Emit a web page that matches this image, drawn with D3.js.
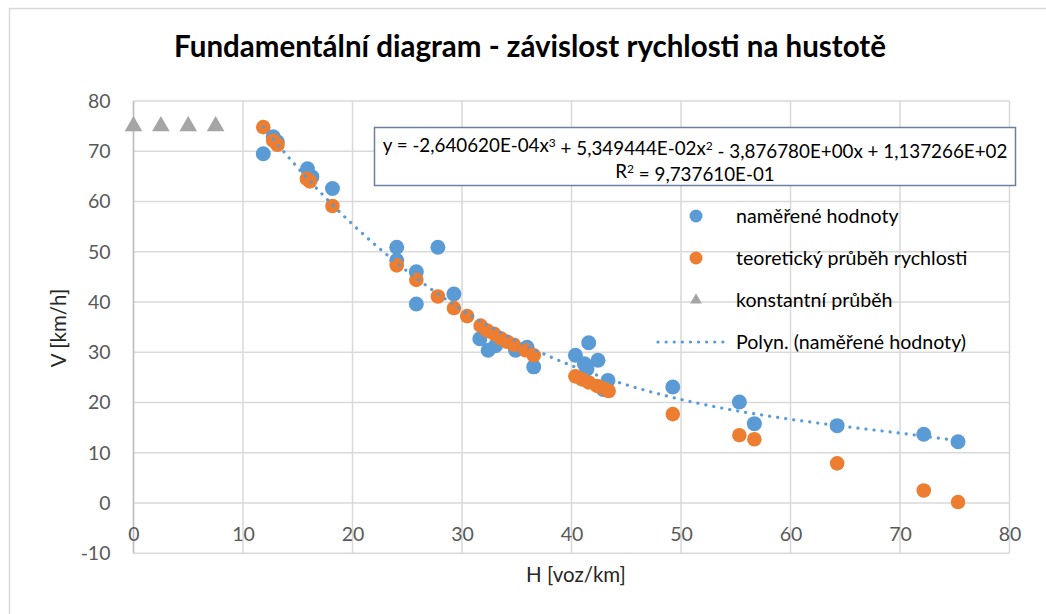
<!DOCTYPE html>
<html>
<head>
<meta charset="utf-8">
<script src="https://cdn.jsdelivr.net/npm/d3@7"></script>
<style>
  body { margin: 0; background: #fff; }
  svg { display: block; font-family: Lato, "Open Sans", sans-serif; }
</style>
</head>
<body>
<svg id="chart" width="1046" height="614"></svg>
<script>
'use strict';

var titleText = "Fundamentální diagram - závislost rychlosti na hustotě";
var xTitle = "H [voz/km]";
var yTitle = "V [km/h]";

var xTicks = [0, 10, 20, 30, 40, 50, 60, 70, 80];
var yTicks = [-10, 0, 10, 20, 30, 40, 50, 60, 70, 80];

// naměřené hodnoty
var measuredH = [11.85, 12.76, 13.13, 15.89, 16.29, 18.17, 24.04, 24.04, 27.80, 25.83,
  25.83, 29.26, 31.63, 32.39, 33.06, 34.89, 35.94, 36.55, 40.36, 41.57,
  41.18, 42.42, 41.41, 43.33, 42.9, 49.25, 55.33, 56.70, 64.26, 72.17, 75.30];
var measuredV = [69.5, 72.9, 71.9, 66.5, 64.9, 62.6, 50.9, 48.3, 50.9, 46.0,
  39.6, 41.6, 32.7, 30.4, 31.3, 30.4, 31.0, 27.1, 29.4, 31.9,
  27.7, 28.4, 26.7, 24.4, 22.6, 23.1, 20.1, 15.8, 15.4, 13.7, 12.2];

// teoretický průběh rychlosti
var theoryH = [11.85, 12.76, 13.15, 15.83, 16.11, 18.17, 24.04, 25.83, 27.80, 29.26,
  30.47, 31.70, 32.30, 32.91, 33.52, 34.12, 34.73, 35.80, 36.55, 40.36,
  40.96, 41.57, 42.33, 42.94, 43.39, 49.25, 55.33, 56.70, 64.26, 72.17, 75.30];
var theoryV = [74.8, 72.1, 71.3, 64.5, 64.0, 59.1, 47.3, 44.4, 41.1, 38.8,
  37.2, 35.3, 34.3, 33.7, 32.8, 32.1, 31.5, 30.4, 29.4, 25.2,
  24.6, 24.0, 23.3, 22.8, 22.3, 17.7, 13.5, 12.7, 7.9, 2.5, 0.2];

// konstantní průběh
var constH = [0, 2.5, 5, 7.5];
var constV = [75, 75, 75, 75];

// trend coefficients as printed in the chart (x^3, x^2, x, 1)
var trendCoefs = [-2.640620E-04, 5.349444E-02, -3.876780E+00, 1.137266E+02];
var eqLine1 = ["y = -2,640620E-04x", "3", " + 5,349444E-02x", "2", " - 3,876780E+00x + 1,137266E+02"];
var eqLine2 = ["R", "2", " = 9,737610E-01"];

var seriesNames = ["naměřené hodnoty", "teoretický průběh rychlosti", "konstantní průběh", "Polyn. (naměřené hodnoty)"];

var blue = "#5B9BD5", orange = "#ED7D31", gray = "#A5A5A5";
var gridColor = "#D9D9D9", tickColor = "#595959";

var svg = d3.select("#chart");

// chart border
svg.append("rect")
  .attr("x", 9.5).attr("y", 8.5)
  .attr("width", 1100).attr("height", 700)
  .attr("fill", "#fff").attr("stroke", gridColor).attr("stroke-width", 1.5);

var x = d3.scaleLinear().domain([0, 80]).range([133.5, 1009.5]);
var y = d3.scaleLinear().domain([-10, 80]).range([553.3, 101]);

// title
svg.append("text")
  .attr("x", 530).attr("y", 57)
  .attr("text-anchor", "middle")
  .style("font-size", "29.5px").style("font-weight", "bold")
  .attr("fill", "#000")
  .text(titleText);

// gridlines
var grid = svg.append("g").attr("stroke", gridColor).attr("stroke-width", 1.5);
grid.selectAll(".gx").data(xTicks).enter().append("line")
  .attr("x1", function(d) { return x(d); }).attr("x2", function(d) { return x(d); })
  .attr("y1", y(80)).attr("y2", y(-10));
grid.selectAll(".gy").data(yTicks).enter().append("line")
  .attr("x1", x(0)).attr("x2", x(80))
  .attr("y1", function(d) { return y(d); }).attr("y2", function(d) { return y(d); });

// axis line
svg.append("line")
  .attr("x1", x(0)).attr("x2", x(0)).attr("y1", y(80)).attr("y2", y(-10))
  .attr("stroke", "#BFBFBF").attr("stroke-width", 1.5);

// axes labels (plain hyphen for negatives, as in the original)
var fmt = function(d) { return String(d); };
var yAxis = svg.append("g")
  .attr("transform", "translate(" + x(0) + ",0)")
  .call(d3.axisLeft(y).tickValues(yTicks).tickFormat(fmt).tickSize(0).tickPadding(23));
var xAxis = svg.append("g")
  .attr("transform", "translate(0," + y(0) + ")")
  .call(d3.axisBottom(x).tickValues(xTicks).tickFormat(fmt).tickSize(0).tickPadding(24));
[xAxis, yAxis].forEach(function(a) {
  a.select(".domain").remove();
  a.selectAll("text")
    .attr("fill", tickColor)
    .style("font-size", "19.5px")
    .style("font-family", "Lato, 'Open Sans', sans-serif");
});

svg.append("text")
  .attr("transform", "translate(66,328) rotate(-90)")
  .attr("text-anchor", "middle")
  .style("font-size", "20.5px").attr("fill", "#262626")
  .text(yTitle);
svg.append("text")
  .attr("x", 576).attr("y", 582)
  .attr("text-anchor", "middle")
  .style("font-size", "20.5px").attr("fill", "#262626")
  .text(xTitle);

// series
var measured = measuredH.map(function(h, i) { return { h: h, v: measuredV[i] }; });
var theory = theoryH.map(function(h, i) { return { h: h, v: theoryV[i] }; });
var constant = constH.map(function(h, i) { return { h: h, v: constV[i] }; });

svg.append("g").selectAll("circle").data(measured).enter().append("circle")
  .attr("cx", function(d) { return x(d.h); })
  .attr("cy", function(d) { return y(d.v); })
  .attr("r", 7.5).attr("fill", blue);

svg.append("g").selectAll("circle").data(theory).enter().append("circle")
  .attr("cx", function(d) { return x(d.h); })
  .attr("cy", function(d) { return y(d.v); })
  .attr("r", 7.3).attr("fill", orange);

var tri = d3.symbol().type(d3.symbolTriangle).size(135);
svg.append("g").selectAll("path").data(constant).enter().append("path")
  .attr("transform", function(d) { return "translate(" + x(d.h) + "," + y(d.v) + ")"; })
  .attr("d", tri).attr("fill", gray);

// trendline
function poly(h) {
  return trendCoefs[0] * h * h * h + trendCoefs[1] * h * h + trendCoefs[2] * h + trendCoefs[3];
}
var ext = d3.extent(measuredH);
var trendData = d3.range(ext[0], ext[1], 0.25).concat([ext[1]]).map(function(h) {
  return { h: h, v: poly(h) };
});
var line = d3.line()
  .x(function(d) { return x(d.h); })
  .y(function(d) { return y(d.v); });
svg.append("path")
  .datum(trendData)
  .attr("d", line)
  .attr("fill", "none").attr("stroke", blue)
  .attr("stroke-width", 3.2).attr("stroke-linecap", "round")
  .attr("stroke-dasharray", "0.1 8");

// equation box
svg.append("rect")
  .attr("x", 374.5).attr("y", 127.5).attr("width", 641).attr("height", 58)
  .attr("fill", "#fff").attr("stroke", "#6B7FA3").attr("stroke-width", 1.5);

function supText(sel, parts) {
  parts.forEach(function(p, i) {
    var t = sel.append("tspan").text(p);
    if (i % 2 === 1) t.attr("dy", "-0.45em").style("font-size", "12px");
    else if (i > 0) t.attr("dy", "0.45em");
  });
}
var eq1 = svg.append("text")
  .attr("x", 695).attr("y", 152)
  .attr("text-anchor", "middle")
  .style("font-size", "18.8px").attr("fill", "#000");
supText(eq1, eqLine1);
var eq2 = svg.append("text")
  .attr("x", 695).attr("y", 178)
  .attr("text-anchor", "middle")
  .style("font-size", "18.8px").attr("fill", "#000");
supText(eq2, eqLine2);

// legend
var legend = svg.append("g");
var rowY = d3.scalePoint().domain(seriesNames).range([216, 342]);
var lg = legend.selectAll("g").data(seriesNames).enter().append("g")
  .attr("transform", function(d) { return "translate(0," + rowY(d) + ")"; });
lg.append("text")
  .attr("x", 736).attr("dy", "0.35em")
  .style("font-size", "19.6px").attr("fill", "#000")
  .text(function(d) { return d; });
lg.filter(function(d, i) { return i < 2; }).append("circle")
  .attr("cx", 696).attr("r", 6.5)
  .attr("fill", function(d, i) { return i === 0 ? blue : orange; });
lg.filter(function(d, i) { return i === 2; }).append("path")
  .attr("transform", "translate(696,0)")
  .attr("d", d3.symbol().type(d3.symbolTriangle).size(60)).attr("fill", gray);
lg.filter(function(d, i) { return i === 3; }).append("line")
  .attr("x1", 658).attr("x2", 724)
  .attr("stroke", blue).attr("stroke-width", 3.2).attr("stroke-linecap", "round")
  .attr("stroke-dasharray", "0.1 8");
</script>
</body>
</html>
